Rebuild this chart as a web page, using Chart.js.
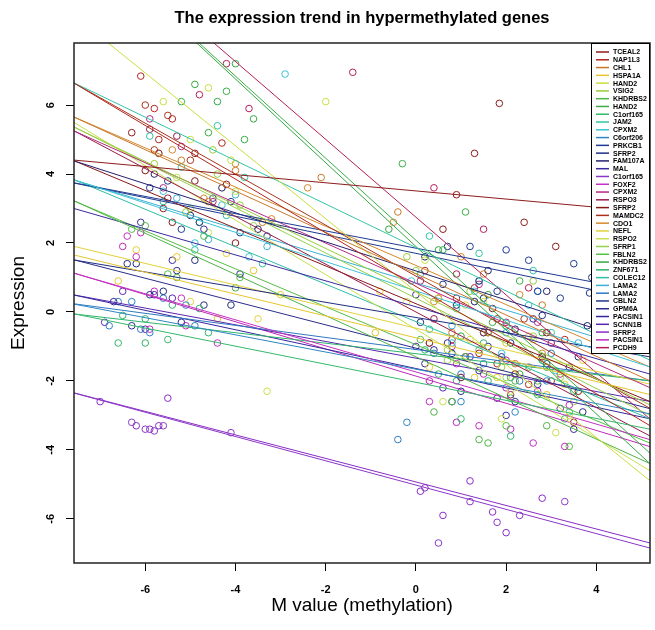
<!DOCTYPE html>
<html><head><meta charset="utf-8">
<script src="https://cdn.jsdelivr.net/npm/chart.js@4/dist/chart.umd.min.js"></script>
<style>html,body{margin:0;padding:0;background:#fff}#wrap{width:655px;height:630px}</style>
</head><body><div id="wrap"><canvas id="c" width="655" height="630"></canvas></div>
<script>
const titleText = 'The expression trend in hypermethylated genes';
const xLabel = 'M value (methylation)';
const yLabel = 'Expression';
const xTicks = [-6, -4, -2, 0, 2, 4];
const yTicks = [-6, -4, -2, 0, 2, 4, 6];
const xRange = [-7.58, 5.19];
const yRange = [-7.28, 7.8];

const genes = ['TCEAL2','NAP1L3','CHL1','HSPA1A','HAND2','VSIG2','KHDRBS2','HAND2','C1orf165','JAM2','CPXM2','C6orf206','PRKCB1','SFRP2','FAM107A','MAL','C1orf165','FOXF2','CPXM2','RSPO3','SFRP2','MAMDC2','CDO1','NEFL','RSPO2','SFRP1','FBLN2','KHDRBS2','ZNF671','COLEC12','LAMA2','LAMA2','CBLN2','GPM6A','PACSIN1','SCNN1B','SFRP2','PACSIN1','PCDH9'];
const colors = ['#8E1B1B','#B3261E','#C8782A','#E6C62E','#C9DE3F','#9ACC3A','#4FB444','#3AAE48','#35B86A','#33C4A6','#3BC2D6','#2E86C2','#1E3A92','#1E2C80','#24206E','#3A2A9E','#8A38C8','#C431C4','#B42A86','#971C4A','#861818','#A8341E','#D4892C','#E2D13A','#C6E04E','#93D24C','#55BE44','#34A844','#2FB46C','#2EBEA2','#3AB0D4','#2F78C0','#1E3A8E','#2A2C88','#35279C','#5A26B0','#8A2CC4','#BE2AB8','#B51E5A'];

// regression coefficients (expression = intercept + slope * M value)
const intercepts = [3.51,0.74,1.11,-0.75,0.59,0.58,-1.30,2.08,-2.04,1.87,0.61,-1.66,1.85,-0.16,1.19,0.15,-5.02,-1.74,0.83,0.00,0.24,1.04,1.35,-0.47,-0.50,0.40,-0.95,1.90,-1.21,-0.28,0.84,-1.09,1.70,-1.05,-1.64,-1.34,-4.93,-1.86,2.75];
const slopes = [-0.118,-0.778,-0.599,-0.317,-1.057,-0.631,-0.597,-1.190,-0.262,-0.630,-0.425,-0.249,-0.250,-0.220,-0.421,-0.376,-0.352,-0.378,-0.583,-0.693,-0.547,-0.739,-0.568,-0.313,-0.791,-0.655,-0.550,-1.214,-0.152,-0.543,-0.394,-0.175,-0.269,-0.338,-0.281,-0.242,-0.341,-0.394,-1.128];

// samples: M value (x) and expression (y) per gene
const pointsX = [
[-6.3,-5.6,-4.9,-4.2,0.6,0.9,1.3,1.85,2.4,3.1],
[-6.1,-5.8,-5.7,-5.4,-4.3,0.3,0.9,1.4,1.8,2.5,3.3],
[-5.2,-4.6,-4.0,-3.4,-2.1,-0.4,0.8,1.5,2.2,2.8],
[-6.6,-5.3,-4.4,-3.6,-0.9,0.5,1.3,2.0,2.9,3.7],
[-5.6,-5.0,-4.6,-4.1,-2.0,0.2,0.9,1.5,2.1,2.6,3.4],
[-5.8,-5.1,-4.5,-3.9,-0.2,0.7,1.2,1.9,2.6,3.2],
[-6.0,-5.3,-4.7,-4.0,0.4,1.1,1.6,2.2,2.9,1.4],
[-5.2,-4.6,-4.2,-3.8,-0.3,0.6,1.1,1.7,2.3,2.9],
[-6.6,-6.0,-5.5,-4.8,0.5,1.0,1.6,2.1,2.7,3.3],
[-5.9,-5.2,-4.4,-3.8,0.3,0.9,1.4,2.0,2.6,3.0],
[-5.6,-4.9,-4.3,-3.7,-2.9,-0.1,0.8,1.3,1.9,2.5,3.1],
[-6.8,-6.3,-5.9,-5.1,-0.2,0.4,1.0,1.5,2.2,2.9],
[-5.5,-4.8,-4.1,-3.3,0.7,1.4,2.0,2.7,3.5,3.85],
[-6.2,-5.6,-4.9,-4.1,0.1,0.8,1.5,2.1,2.8,3.6],
[-5.8,-5.0,-4.3,-3.5,0.2,0.9,1.6,2.2,2.9,3.8],
[-6.1,-5.4,-4.7,-3.9,0.0,0.7,1.3,1.9,2.6,3.4],
[-6.3,-6.0,-5.8,-5.6,-4.1,0.2,0.5,1.2,1.8,2.3,3.3],
[-6.4,-6.2,-5.9,-5.2,-4.4,0.3,0.9,1.4,2.0,2.6,3.4],
[-5.9,-5.6,-5.2,-4.5,0.1,0.8,1.4,2.0,2.7,3.2],
[-5.9,-5.7,-5.5,-5.3,0.4,1.0,1.5,2.1,2.8,3.5],
[-6.0,-5.4,-4.9,-4.0,0.5,1.1,1.7,2.2,2.9,3.6],
[-6.0,-5.8,-5.5,-5.0,0.2,0.8,1.3,1.8,2.4,3.0],
[-5.4,-4.7,-4.0,-3.2,-2.4,-0.5,0.4,1.0,1.6,2.3,2.8],
[-6.2,-5.0,-4.2,-3.5,-3.0,-0.8,0.3,1.1,1.8,2.5,3.3],
[-5.3,-4.6,-4.0,-3.3,-0.2,0.6,1.2,1.9,2.5,3.1],
[-5.7,-5.0,-4.4,-3.6,0.0,0.7,1.3,2.0,2.6,3.5],
[-6.3,-5.5,-4.8,-3.9,0.1,0.8,1.4,2.0,2.7,3.4],
[-4.9,-4.4,-4.0,-3.6,-0.6,0.5,1.0,1.6,2.3,2.8],
[-6.5,-6.0,-5.4,-4.6,0.2,0.9,1.5,2.1,2.8,3.5],
[-5.6,-4.9,-4.2,-3.4,0.3,1.0,1.5,2.1,2.8,3.4],
[-5.3,-4.6,-4.0,-3.3,0.1,0.8,1.4,2.0,2.7,3.6],
[-6.6,-6.1,-5.6,-4.9,-0.4,0.3,1.0,1.6,2.3,3.0],
[-5.9,-5.2,-4.5,-3.9,0.6,1.2,1.8,2.5,3.2,3.9],
[-6.4,-5.9,-5.3,-4.7,0.4,1.0,1.6,2.2,2.9,3.7],
[-6.7,-6.3,-5.8,-5.2,0.2,0.8,1.4,2.0,2.7,3.5],
[-6.9,-6.5,-6.0,-5.4,0.0,0.6,1.2,1.8,2.5,3.2],
[-7.0,-6.2,-5.9,-5.7,-5.5,0.1,0.6,1.2,1.7,2.0,2.8],
[-6.5,-6.1,-5.8,-5.1,0.3,0.9,1.5,2.1,2.7,3.3],
[-4.8,-4.2,-3.7,-1.4,0.4,0.9,1.5,2.0,2.5,3.0]
];
const pointsY = [
[5.2,3.0,4.6,3.7,2.4,3.4,4.6,6.05,2.6,1.9],
[6.84,5.9,5.0,5.6,4.9,-0.9,0.4,-1.2,-0.2,-2.1,-0.8],
[4.4,3.2,4.1,2.6,3.9,2.9,-0.6,1.1,-1.5,0.2],
[0.9,1.6,-0.2,1.2,-0.6,0.4,-1.9,-0.9,-2.4,-1.4],
[6.1,5.0,6.5,4.4,6.1,1.5,-1.4,0.3,-2.3,-0.8,-3.0],
[4.3,2.9,4.7,3.1,1.6,-1.1,0.6,-1.6,0.9,-1.9],
[2.5,1.0,2.2,0.7,-2.9,-1.3,-3.8,-2.0,-3.3,-3.7],
[6.1,5.2,6.4,5.0,4.3,1.8,2.9,-0.3,0.9,-1.6],
[-0.9,-0.2,-0.8,0.1,-1.8,-3.1,-2.0,-3.6,-2.4,-3.1],
[5.1,4.2,5.4,3.9,2.2,0.1,1.7,-0.4,1.2,-0.6],
[3.5,2.0,3.1,1.6,6.9,0.9,-0.9,0.6,-1.2,0.2,-1.7],
[-0.4,0.3,-0.6,0.2,-3.2,-1.2,-2.6,-1.5,-2.9,-2.0],
[3.8,2.6,3.2,2.2,1.9,0.9,1.8,0.6,1.4,0.55],
[1.4,0.6,1.5,0.2,-0.3,-1.2,0.4,-0.9,-0.1,-1.3],
[4.0,2.8,3.6,2.4,1.6,0.2,1.2,-0.5,0.6,-0.4],
[2.6,1.5,2.4,1.1,0.5,-0.9,0.3,-1.3,-0.2,-1.6],
[-3.2,-3.4,-3.45,-3.3,-3.5,-5.1,-6.7,-5.5,-6.1,-5.9,-5.5],
[2.2,1.6,-0.5,0.4,-0.9,-2.6,-1.5,-3.3,-2.2,-3.8,-2.7],
[5.6,3.6,4.8,3.2,0.9,-1.0,0.8,-1.4,-0.3,-1.8],
[5.3,4.6,3.3,5.1,-0.2,-1.9,-0.6,-2.4,-1.3,-3.2],
[4.1,2.6,3.8,2.0,0.4,-1.3,0.1,-1.8,-0.6,-2.3],
[6.0,4.7,5.7,4.4,1.2,-0.8,0.7,-1.5,-0.2,-2.0],
[4.7,3.3,4.3,2.7,3.6,2.6,0.3,1.6,-0.6,0.5,-1.2],
[1.8,0.3,1.7,-0.2,0.5,0.6,-1.6,0.2,-1.9,-0.7,-2.1],
[3.9,2.3,3.5,-2.3,0.3,-2.6,-0.8,-3.1,-1.6,-3.5],
[4.6,3.0,4.0,2.5,1.2,-1.4,0.3,-1.9,-0.7,-2.6],
[2.4,1.1,2.6,1.0,-0.8,-2.6,-1.1,-3.3,-2.0,-3.9],
[6.6,6.1,7.2,5.6,2.4,1.8,-0.7,0.5,-1.8,-0.6],
[-0.1,-0.9,0.2,-0.6,-1.1,-2.0,-0.9,-1.9,-1.3,-2.3],
[3.2,1.8,2.8,1.4,-0.5,-1.9,-0.6,-2.5,-1.4,-2.9],
[3.3,2.1,3.4,1.9,1.1,-0.4,0.9,-0.6,0.6,-0.9],
[0.3,-0.5,0.4,-0.4,-3.7,-0.9,-1.8,-0.6,-2.0,-1.2],
[3.6,2.4,3.3,2.3,0.8,1.9,0.6,1.5,0.4,1.0],
[1.4,0.5,1.2,0.2,-1.1,-2.3,-1.0,-2.6,-1.5,-2.9],
[0.3,-0.4,0.5,-0.3,-1.5,-2.6,-1.7,-3.0,-2.1,-3.4],
[-0.3,0.6,-0.5,0.4,-1.0,-2.2,-1.3,-2.5,-1.6,-2.8],
[-2.6,-3.3,-3.4,-3.3,-2.5,-5.2,-5.9,-4.9,-5.8,-6.4,-5.4],
[1.9,2.3,0.6,-0.4,-2.0,-3.2,-1.8,-3.4,-2.3,-3.9],
[6.3,7.2,5.9,6.95,3.6,1.1,2.4,-0.3,0.7,-0.9]
];

const FONT = "'Liberation Sans', Arial, Helvetica, sans-serif";

const lineSets = genes.map((g, i) => ({
  label: g + ' fit',
  data: xRange.map(x => ({ x: x, y: intercepts[i] + slopes[i] * x })),
  showLine: true, borderColor: colors[i], borderWidth: 1, pointRadius: 0,
  fill: false, tension: 0
}));
const pointSets = genes.map((g, i) => ({
  label: g,
  data: pointsX[i].map((x, j) => ({ x: x, y: pointsY[i][j] })),
  showLine: false, borderColor: colors[i], backgroundColor: 'rgba(0,0,0,0)',
  pointRadius: 3.3, pointBorderWidth: 1, pointStyle: 'circle'
}));

const decor = {
  id: 'decor',
  afterDraw(chart) {
    const ctx = chart.ctx, a = chart.chartArea;
    ctx.save();
    // plot frame
    ctx.strokeStyle = '#222'; ctx.lineWidth = 1.5;
    ctx.strokeRect(a.left, a.top, a.right - a.left, a.bottom - a.top);
    // title
    ctx.fillStyle = '#000';
    ctx.font = 'bold 16.5px ' + FONT;
    ctx.textAlign = 'center'; ctx.textBaseline = 'middle';
    ctx.fillText(titleText, (a.left + a.right) / 2, 18);
    // legend
    const lx = 591, ly = a.top, lw = a.right - lx, lh = 311;
    ctx.fillStyle = '#fff'; ctx.fillRect(lx, ly, lw, lh);
    ctx.strokeStyle = '#000'; ctx.lineWidth = 1;
    ctx.strokeRect(lx + 0.5, ly + 0.5, lw - 1, lh - 1);
    ctx.font = 'bold 7px ' + FONT;
    ctx.textAlign = 'left'; ctx.textBaseline = 'middle';
    genes.forEach((g, i) => {
      const y = ly + 9 + i * 7.78;
      ctx.strokeStyle = colors[i]; ctx.lineWidth = 1.5;
      ctx.beginPath(); ctx.moveTo(596, y); ctx.lineTo(609, y); ctx.stroke();
      ctx.fillStyle = '#000';
      ctx.fillText(g, 613, y + 0.5);
    });
    ctx.restore();
  }
};

new Chart(document.getElementById('c'), {
  type: 'scatter',
  data: { datasets: [...lineSets, ...pointSets] },
  options: {
    responsive: false, animation: false, devicePixelRatio: 1,
    layout: { padding: { top: 43, right: 5, left: 0, bottom: 0 } },
    plugins: { legend: { display: false }, title: { display: false }, tooltip: { enabled: false } },
    scales: {
      x: {
        type: 'linear', min: xRange[0], max: xRange[1],
        afterBuildTicks: s => { s.ticks = xTicks.map(v => ({ value: v })); },
        afterFit: s => { s.height = 67; },
        grid: { drawOnChartArea: false, drawTicks: true, tickLength: 8, tickColor: '#000', tickWidth: 1 },
        border: { display: false },
        ticks: { font: { family: FONT, size: 11, weight: 'bold' }, color: '#000', padding: 12, maxRotation: 0, minRotation: 0, autoSkip: false },
        title: { display: true, text: xLabel, color: '#000', font: { family: FONT, size: 19 }, padding: { top: 0, bottom: 13 } }
      },
      y: {
        type: 'linear', min: yRange[0], max: yRange[1],
        afterBuildTicks: s => { s.ticks = yTicks.map(v => ({ value: v })); },
        afterFit: s => { s.width = 74; },
        grid: { drawOnChartArea: false, drawTicks: true, tickLength: 8, tickColor: '#000', tickWidth: 1 },
        border: { display: false },
        ticks: { font: { family: FONT, size: 11, weight: 'bold' }, color: '#000', padding: 10, minRotation: 90, maxRotation: 90, crossAlign: 'center', autoSkip: false },
        title: { display: true, text: yLabel, color: '#000', font: { family: FONT, size: 19 }, padding: { top: 7, bottom: 0 } }
      }
    }
  },
  plugins: [decor]
});
</script>
</body></html>
